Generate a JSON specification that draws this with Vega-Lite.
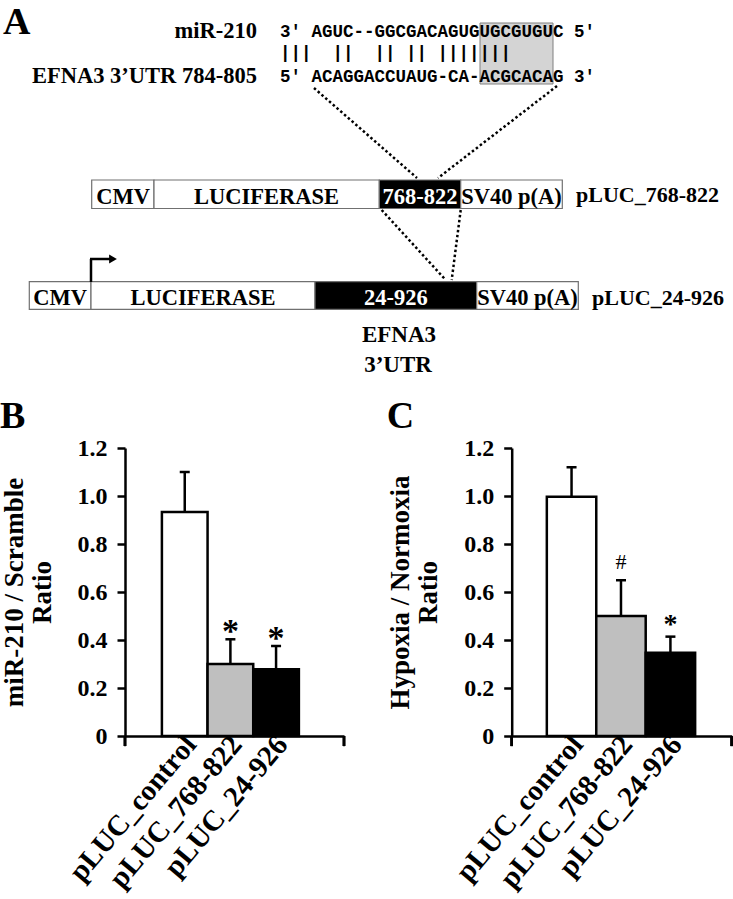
{
  "$schema": "https://vega.github.io/schema/vega-lite/v6.json",
  "padding": 0,
  "background": "white",
  "config": {"view": {"stroke": null}, "font": "Liberation Serif"},
  "bounds": "flush",
  "spacing": 68,
  "resolve": {"scale": {"fill": "independent"}},
  "vconcat": [
    {
      "width": 733,
      "height": 380,
      "layer": [
        {
          "data": {"values": [{"x0": 480, "x1": 553, "y0": 23, "y1": 84}]},
          "mark": {"type": "rect", "fill": "#d4d4d4", "stroke": "#808080", "strokeWidth": 1},
          "encoding": {
            "x": {"field": "x0", "type": "quantitative", "scale": {"domain": [0, 733], "nice": false, "zero": false}, "axis": null},
            "x2": {"field": "x1"},
            "y": {"field": "y0", "type": "quantitative", "scale": {"domain": [0, 380], "nice": false, "zero": false, "reverse": true}, "axis": null},
            "y2": {"field": "y1"}
          }
        },
        {
          "data": {"values": [
            {"label": "A", "x": 3, "y": 34}
          ]},
          "mark": {"type": "text", "font": "Liberation Serif", "fontWeight": "bold", "fontSize": 38, "align": "left", "baseline": "alphabetic", "color": "black"},
          "encoding": {
            "x": {"field": "x", "type": "quantitative", "axis": null},
            "y": {"field": "y", "type": "quantitative", "axis": null},
            "text": {"field": "label"}
          }
        },
        {
          "data": {"values": [
            {"label": "miR-210", "x": 257, "y": 38},
            {"label": "EFNA3 3’UTR 784-805", "x": 257, "y": 83}
          ]},
          "mark": {"type": "text", "font": "Liberation Serif", "fontWeight": "bold", "fontSize": 22.5, "align": "right", "baseline": "alphabetic", "color": "black"},
          "encoding": {
            "x": {"field": "x", "type": "quantitative", "axis": null},
            "y": {"field": "y", "type": "quantitative", "axis": null},
            "text": {"field": "label"}
          }
        },
        {
          "data": {"values": [
            {"label": "3' AGUC--GGCGACAGUGUGCGUGUC 5'", "x": 280, "y": 37},
            {"label": "\u00a0\u00a0\u00a0\u00a0|||\u00a0\u00a0||\u00a0\u00a0||\u00a0||\u00a0|||||||", "x": 280, "y": 58},
            {"label": "5' ACAGGACCUAUG-CA-ACGCACAG 3'", "x": 280, "y": 82}
          ]},
          "mark": {"type": "text", "font": "Liberation Mono", "fontWeight": "bold", "fontSize": 17.5, "align": "left", "baseline": "alphabetic", "color": "black"},
          "encoding": {
            "x": {"field": "x", "type": "quantitative", "axis": null},
            "y": {"field": "y", "type": "quantitative", "axis": null},
            "text": {"field": "label"}
          }
        },
        {
          "data": {"values": [
            {"x0": 314, "y0": 88, "x1": 417, "y1": 178},
            {"x0": 557, "y0": 86, "x1": 438, "y1": 178},
            {"x0": 381.7, "y0": 210, "x1": 445.7, "y1": 280},
            {"x0": 460.7, "y0": 210, "x1": 451.7, "y1": 280}
          ]},
          "mark": {"type": "rule", "color": "black", "strokeWidth": 2.5, "strokeDash": [2.5, 2.5]},
          "encoding": {
            "x": {"field": "x0", "type": "quantitative", "axis": null},
            "x2": {"field": "x1"},
            "y": {"field": "y0", "type": "quantitative", "axis": null},
            "y2": {"field": "y1"}
          }
        },
        {
          "data": {"name": "segments", "values": [
            {"construct": "pLUC_768-822", "part": "CMV", "start": 91.7, "end": 154, "mid": 123, "top": 180, "bottom": 208.5, "ty": 204, "kind": "vector"},
            {"construct": "pLUC_768-822", "part": "LUCIFERASE", "start": 154, "end": 379.3, "mid": 266.6, "top": 180, "bottom": 208.5, "ty": 204, "kind": "vector"},
            {"construct": "pLUC_768-822", "part": "768-822", "start": 379.3, "end": 460.7, "mid": 420, "top": 180, "bottom": 208.5, "ty": 204, "kind": "utr"},
            {"construct": "pLUC_768-822", "part": "SV40 p(A)", "start": 460.7, "end": 562.3, "mid": 511.5, "top": 180, "bottom": 208.5, "ty": 204, "kind": "vector"},
            {"construct": "pLUC_24-926", "part": "CMV", "start": 29.3, "end": 91, "mid": 60.2, "top": 281.7, "bottom": 309.3, "ty": 305, "kind": "vector"},
            {"construct": "pLUC_24-926", "part": "LUCIFERASE", "start": 91, "end": 315, "mid": 203, "top": 281.7, "bottom": 309.3, "ty": 305, "kind": "vector"},
            {"construct": "pLUC_24-926", "part": "24-926", "start": 315, "end": 476.7, "mid": 395.9, "top": 281.7, "bottom": 309.3, "ty": 305, "kind": "utr"},
            {"construct": "pLUC_24-926", "part": "SV40 p(A)", "start": 476.7, "end": 578.3, "mid": 527.5, "top": 281.7, "bottom": 309.3, "ty": 305, "kind": "vector"}
          ]},
          "mark": {"type": "rect", "stroke": "#707070", "strokeWidth": 1.2},
          "encoding": {
            "x": {"field": "start", "type": "quantitative", "axis": null},
            "x2": {"field": "end"},
            "y": {"field": "top", "type": "quantitative", "axis": null},
            "y2": {"field": "bottom"},
            "fill": {"field": "kind", "type": "nominal", "scale": {"domain": ["vector", "utr"], "range": ["white", "black"]}, "legend": null}
          }
        },
        {
          "data": {"name": "segments"},
          "transform": [{"filter": "datum.kind == 'vector'"}],
          "mark": {"type": "text", "font": "Liberation Serif", "fontWeight": "bold", "fontSize": 22.5, "align": "center", "baseline": "alphabetic", "color": "black"},
          "encoding": {
            "x": {"field": "mid", "type": "quantitative", "axis": null},
            "y": {"field": "ty", "type": "quantitative", "axis": null},
            "text": {"field": "part"}
          }
        },
        {
          "data": {"name": "segments"},
          "transform": [{"filter": "datum.kind == 'utr'"}],
          "mark": {"type": "text", "font": "Liberation Serif", "fontWeight": "bold", "fontSize": 22.5, "align": "center", "baseline": "alphabetic", "color": "white"},
          "encoding": {
            "x": {"field": "mid", "type": "quantitative", "axis": null},
            "y": {"field": "ty", "type": "quantitative", "axis": null},
            "text": {"field": "part"}
          }
        },
        {
          "data": {"values": [
            {"x0": 91, "y0": 282, "x1": 91, "y1": 259},
            {"x0": 90, "y0": 259, "x1": 110, "y1": 259}
          ]},
          "mark": {"type": "rule", "color": "black", "strokeWidth": 2.5},
          "encoding": {
            "x": {"field": "x0", "type": "quantitative", "axis": null},
            "x2": {"field": "x1"},
            "y": {"field": "y0", "type": "quantitative", "axis": null},
            "y2": {"field": "y1"}
          }
        },
        {
          "data": {"values": [{"x": 113, "y": 259}]},
          "mark": {"type": "point", "shape": "triangle-right", "size": 80, "filled": true, "color": "black", "opacity": 1},
          "encoding": {
            "x": {"field": "x", "type": "quantitative", "axis": null},
            "y": {"field": "y", "type": "quantitative", "axis": null}
          }
        },
        {
          "data": {"values": [
            {"label": "pLUC_768-822", "x": 576, "y": 202},
            {"label": "pLUC_24-926", "x": 592, "y": 305}
          ]},
          "mark": {"type": "text", "font": "Liberation Serif", "fontWeight": "bold", "fontSize": 22, "align": "left", "baseline": "alphabetic", "color": "black"},
          "encoding": {
            "x": {"field": "x", "type": "quantitative", "axis": null},
            "y": {"field": "y", "type": "quantitative", "axis": null},
            "text": {"field": "label"}
          }
        },
        {
          "data": {"values": [
            {"label": "EFNA3", "x": 399, "y": 342},
            {"label": "3’UTR", "x": 398, "y": 372}
          ]},
          "mark": {"type": "text", "font": "Liberation Serif", "fontWeight": "bold", "fontSize": 23, "align": "center", "baseline": "alphabetic", "color": "black"},
          "encoding": {
            "x": {"field": "x", "type": "quantitative", "axis": null},
            "y": {"field": "y", "type": "quantitative", "axis": null},
            "text": {"field": "label"}
          }
        }
      ]
    },
    {
      "bounds": "flush",
      "spacing": 0,
      "resolve": {"scale": {"fill": "independent"}},
      "hconcat": [
        {
          "width": 125,
          "height": 288,
          "data": {"values": [{"s": 0}]},
          "mark": {"type": "point", "opacity": 0},
          "encoding": {}
        },
        {
          "bounds": "flush",
          "spacing": 167.7,
          "resolve": {"scale": {"fill": "independent"}},
          "hconcat": [
            {
              "width": 219,
              "height": 288,
              "title": {"text": "B", "anchor": "start", "fontSize": 38, "font": "Liberation Serif", "fontWeight": "bold", "offset": 0, "color": "black"},
              "data": {"values": [
                {"construct": "pLUC_control", "mean": 0.933, "upper": 1.1, "sig": ""},
                {"construct": "pLUC_768-822", "mean": 0.30, "upper": 0.403, "sig": "*"},
                {"construct": "pLUC_24-926", "mean": 0.278, "upper": 0.375, "sig": "*"}
              ]},
              "encoding": {
                "x": {
                  "field": "construct", "type": "nominal", "sort": null,
                  "scale": {"paddingInner": 0, "paddingOuter": 0.898, "align": 0.45},
                  "axis": {"title": null, "labelAngle": -50, "labelFont": "Liberation Serif", "labelFontWeight": "bold", "labelFontSize": 29, "labelColor": "black", "labelLimit": 0, "labelOffset": 6, "ticks": false, "tickSize": 0, "labelPadding": 3, "domainColor": "black", "domainWidth": 2.5, "labelOverlap": false}
                }
              },
              "layer": [
                {
                  "mark": {"type": "bar", "stroke": "black", "strokeWidth": 2.5},
                  "encoding": {
                    "y": {
                      "field": "mean", "type": "quantitative",
                      "scale": {"domain": [0, 1.2], "nice": false},
                      "axis": {"title": ["miR-210 / Scramble", "Ratio"], "values": [0, 0.2, 0.4, 0.6, 0.8, 1.0, 1.2], "labelExpr": "datum.value == 0 ? '0' : format(datum.value, '.1f')", "grid": false, "domainColor": "black", "domainWidth": 2.5, "tickColor": "black", "tickWidth": 2.5, "tickSize": 8, "labelPadding": 10, "labelFont": "Liberation Serif", "labelFontSize": 24, "labelFontWeight": "bold", "labelColor": "black", "labelOverlap": false, "titleFont": "Liberation Serif", "titleFontSize": 27, "titleFontWeight": "bold", "titleColor": "black", "titleLineHeight": 28, "titlePadding": 21}
                    },
                    "fill": {"field": "construct", "type": "nominal", "sort": null, "scale": {"domain": ["pLUC_control", "pLUC_768-822", "pLUC_24-926"], "range": ["white", "#bfbfbf", "black"]}, "legend": null}
                  }
                },
                {
                  "mark": {"type": "rule", "color": "black", "strokeWidth": 2.5},
                  "encoding": {"y": {"field": "mean", "type": "quantitative"}, "y2": {"field": "upper"}}
                },
                {
                  "mark": {"type": "tick", "orient": "horizontal", "size": 10, "thickness": 2.5, "color": "black", "opacity": 1},
                  "encoding": {"y": {"field": "upper", "type": "quantitative"}}
                },
                {
                  "transform": [{"filter": "datum.sig == '*'"}],
                  "mark": {"type": "text", "font": "Liberation Serif", "fontWeight": "bold", "fontSize": 34, "baseline": "alphabetic", "dy": 3, "color": "black"},
                  "encoding": {"y": {"field": "upper", "type": "quantitative"}, "text": {"field": "sig"}}
                },
                {
                  "mark": {"type": "rule", "color": "black", "strokeWidth": 2.5},
                  "encoding": {"x": {"value": 0}, "y": {"datum": 0, "type": "quantitative"}, "y2": {"datum": -0.042}}
                },
                {
                  "mark": {"type": "rule", "color": "black", "strokeWidth": 2.5},
                  "encoding": {"x": {"value": "width"}, "y": {"datum": 0, "type": "quantitative"}, "y2": {"datum": -0.042}}
                }
              ]
            },
            {
              "width": 220,
              "height": 288,
              "title": {"text": "C", "anchor": "start", "fontSize": 38, "font": "Liberation Serif", "fontWeight": "bold", "offset": 0, "color": "black"},
              "data": {"values": [
                {"construct": "pLUC_control", "mean": 0.997, "upper": 1.12, "sig": ""},
                {"construct": "pLUC_768-822", "mean": 0.50, "upper": 0.649, "sig": "#"},
                {"construct": "pLUC_24-926", "mean": 0.347, "upper": 0.414, "sig": "*"}
              ]},
              "encoding": {
                "x": {
                  "field": "construct", "type": "nominal", "sort": null,
                  "scale": {"paddingInner": 0, "paddingOuter": 0.725, "align": 0.49},
                  "axis": {"title": null, "labelAngle": -50, "labelFont": "Liberation Serif", "labelFontWeight": "bold", "labelFontSize": 29, "labelColor": "black", "labelLimit": 0, "labelOffset": 6, "ticks": false, "tickSize": 0, "labelPadding": 3, "domainColor": "black", "domainWidth": 2.5, "labelOverlap": false}
                }
              },
              "layer": [
                {
                  "mark": {"type": "bar", "stroke": "black", "strokeWidth": 2.5},
                  "encoding": {
                    "y": {
                      "field": "mean", "type": "quantitative",
                      "scale": {"domain": [0, 1.2], "nice": false},
                      "axis": {"title": ["Hypoxia / Normoxia", "Ratio"], "values": [0, 0.2, 0.4, 0.6, 0.8, 1.0, 1.2], "labelExpr": "datum.value == 0 ? '0' : format(datum.value, '.1f')", "grid": false, "domainColor": "black", "domainWidth": 2.5, "tickColor": "black", "tickWidth": 2.5, "tickSize": 8, "labelPadding": 10, "labelFont": "Liberation Serif", "labelFontSize": 24, "labelFontWeight": "bold", "labelColor": "black", "labelOverlap": false, "titleFont": "Liberation Serif", "titleFontSize": 27, "titleFontWeight": "bold", "titleColor": "black", "titleLineHeight": 28, "titlePadding": 21}
                    },
                    "fill": {"field": "construct", "type": "nominal", "sort": null, "scale": {"domain": ["pLUC_control", "pLUC_768-822", "pLUC_24-926"], "range": ["white", "#bfbfbf", "black"]}, "legend": null}
                  }
                },
                {
                  "mark": {"type": "rule", "color": "black", "strokeWidth": 2.5},
                  "encoding": {"y": {"field": "mean", "type": "quantitative"}, "y2": {"field": "upper"}}
                },
                {
                  "mark": {"type": "tick", "orient": "horizontal", "size": 10, "thickness": 2.5, "color": "black", "opacity": 1},
                  "encoding": {"y": {"field": "upper", "type": "quantitative"}}
                },
                {
                  "transform": [{"filter": "datum.sig == '#'"}],
                  "mark": {"type": "text", "font": "Liberation Serif", "fontWeight": "normal", "fontSize": 22, "baseline": "alphabetic", "dy": -11, "color": "black"},
                  "encoding": {"y": {"field": "upper", "type": "quantitative"}, "text": {"field": "sig"}}
                },
                {
                  "transform": [{"filter": "datum.sig == '*'"}],
                  "mark": {"type": "text", "font": "Liberation Serif", "fontWeight": "bold", "fontSize": 28, "baseline": "alphabetic", "dy": -3.5, "color": "black"},
                  "encoding": {"y": {"field": "upper", "type": "quantitative"}, "text": {"field": "sig"}}
                },
                {
                  "mark": {"type": "rule", "color": "black", "strokeWidth": 2.5},
                  "encoding": {"x": {"value": 0}, "y": {"datum": 0, "type": "quantitative"}, "y2": {"datum": -0.042}}
                },
                {
                  "mark": {"type": "rule", "color": "black", "strokeWidth": 2.5},
                  "encoding": {"x": {"value": "width"}, "y": {"datum": 0, "type": "quantitative"}, "y2": {"datum": -0.042}}
                }
              ]
            }
          ]
        }
      ]
    }
  ]
}
